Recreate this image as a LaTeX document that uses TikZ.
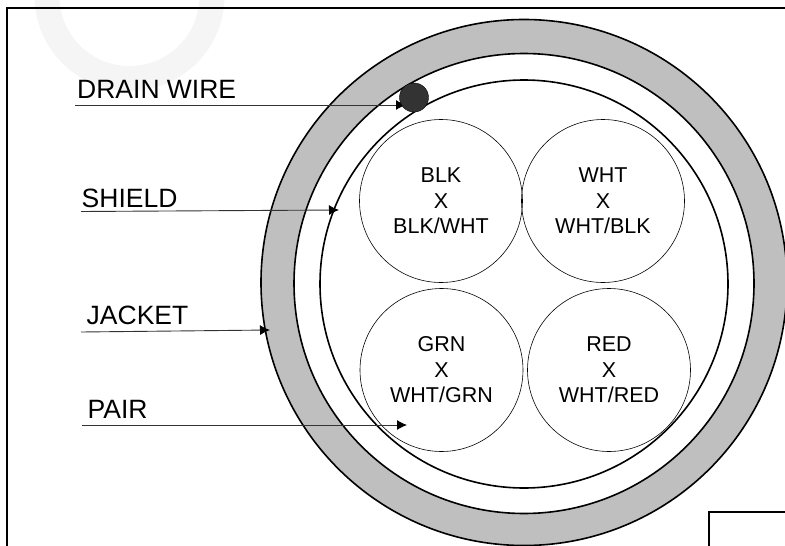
\documentclass[tikz,border=0pt]{standalone}
\usepackage{fontspec}
\setmainfont{Liberation Sans}
\usepackage{tikz}
\usetikzlibrary{arrows.meta, positioning}
\tikzset{
	ringline/.style={black, line width=1.6pt},
	pairnode/.style={draw, black, line width=0.6pt, circle, minimum size=163pt, inner sep=0pt, align=center, font=\fontsize{21.5pt}{25.5pt}\selectfont},
	leader/.style={black!80, line width=0.9pt, -{Latex[black, length=10pt, width=10pt]}},
	callout/.style={font=\fontsize{26.5pt}{28pt}\selectfont, anchor=base west, inner sep=0pt}
}
\begin{document}
\begin{tikzpicture}[x=1pt, y=-1pt]
	\useasboundingbox (0,0) rectangle (785,546);
	\clip (0,0) rectangle (785,546);
	%faint mark behind the frame
	\fill[black!4, even odd rule] (129.5,-4) circle (95) (129.5,-4) circle (70);

	%frame:
	\draw[black, line width=1.5pt] (7,546) -- (7,8) -- (785,8);
	\draw[black, line width=1.8pt] (709,546) -- (709,512) -- (785,512);

	%cable rings
	\filldraw[ringline, fill=black!25] (524,282.5) circle (263);
	\filldraw[ringline, fill=white] (524,283.5) circle (230);
	\draw[ringline] (524,284) circle (204);

	%pairs
	\node[pairnode] (blk) at (441,201) {BLK\\X\\BLK/WHT};
	\node[pairnode] (wht) at (603,201) {WHT\\X\\WHT/BLK};
	\node[pairnode] (grn) at (441.5,370) {GRN\\X\\WHT/GRN};
	\node[pairnode] (red) at (609,370) {RED\\X\\WHT/RED};

	%labels
	\node[callout] (drainlabel) at (77,98.5) {DRAIN WIRE};
	\node[callout] (shieldlabel) at (81.5,207) {SHIELD};
	\node[callout] (jacketlabel) at (86.5,324.5) {JACKET};
	\node[callout] (pairlabel) at (87.5,418) {PAIR};

	%leaders
	\coordinate (drainstart) at (75,105);
	\coordinate (drainend) at (406,105);
	\coordinate (shieldstart) at (81,211.5);
	\coordinate (shieldend) at (339,210);
	\coordinate (jacketstart) at (81,332);
	\coordinate (jacketend) at (270,330);
	\coordinate (pairstart) at (82,425);
	\coordinate (pairend) at (407,425);
	\draw[leader] (drainstart) -- (drainend);
	\draw[leader] (shieldstart) -- (shieldend);
	\draw[leader] (jacketstart) -- (jacketend);
	\draw[leader] (pairstart) -- (pairend);

	%drain wire
	\filldraw[black, fill=black!80] (414,97.5) circle (14.5);
\end{tikzpicture}
\end{document}
